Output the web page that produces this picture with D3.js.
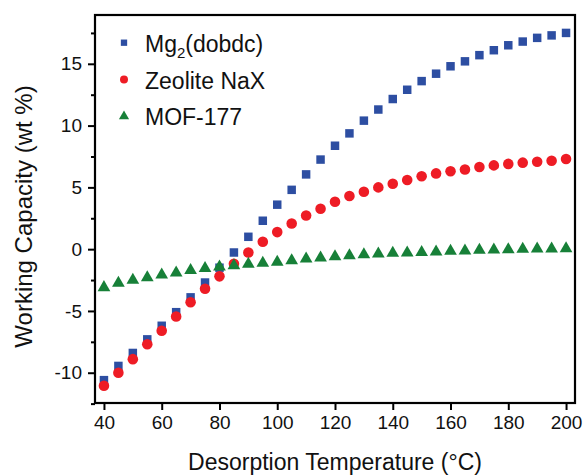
<!DOCTYPE html>
<html>
<head>
<meta charset="UTF-8">
<title>Working Capacity</title>
<script src="https://cdn.jsdelivr.net/npm/d3@7/dist/d3.min.js"></script>
<style>
  body { margin: 0; background: #fff; font-family: 'Liberation Sans', Arial, sans-serif; }
  svg { display: block; }
</style>
</head>
<body>
<div id="chart"></div>
<script>
// temperatures 40..200 in 5 degree steps
const temps = [40, 45, 50, 55, 60, 65, 70, 75, 80, 85, 90, 95, 100, 105, 110, 115, 120, 125, 130, 135, 140, 145, 150, 155, 160, 165, 170, 175, 180, 185, 190, 195, 200];

const mgDobdc = [-10.6, -9.45, -8.4, -7.3, -6.2, -5.1, -3.9, -2.7, -1.5, -0.27, 1.0, 2.3, 3.6, 4.8, 6.05, 7.25, 8.37, 9.37, 10.4, 11.3, 12.15, 12.9, 13.6, 14.2, 14.8, 15.2, 15.7, 16.1, 16.5, 16.8, 17.1, 17.3, 17.5];
const zeoliteNaX = [-11.05, -10.0, -8.9, -7.7, -6.6, -5.45, -4.3, -3.2, -2.2, -1.18, -0.27, 0.6, 1.38, 2.08, 2.73, 3.27, 3.84, 4.3, 4.65, 5.0, 5.3, 5.6, 5.9, 6.13, 6.3, 6.45, 6.65, 6.78, 6.9, 7.0, 7.08, 7.16, 7.3];
const mof177 = [-3.1, -2.75, -2.5, -2.3, -2.08, -1.92, -1.72, -1.55, -1.43, -1.33, -1.2, -1.13, -1.05, -0.92, -0.78, -0.7, -0.6, -0.52, -0.44, -0.38, -0.32, -0.29, -0.26, -0.21, -0.16, -0.13, -0.08, -0.05, -0.03, 0.0, 0.02, 0.03, 0.05];

const xTicks = [40, 60, 80, 100, 120, 140, 160, 180, 200];
const yTicks = [-10, -5, 0, 5, 10, 15];
const yMinor = [-12.5, -7.5, -2.5, 2.5, 7.5, 12.5, 17.5];

const series = [
  { name: "Mg2(dobdc)", values: mgDobdc, color: "#2d4ea2", shape: "square" },
  { name: "Zeolite NaX", values: zeoliteNaX, color: "#ee1c25", shape: "circle" },
  { name: "MOF-177", values: mof177, color: "#178038", shape: "triangle" }
];

const width = 586, height = 475;
const margin = { top: 15, right: 11, bottom: 72, left: 95 };
const w = width - margin.left - margin.right;
const h = height - margin.top - margin.bottom;

const svg = d3.select("#chart").append("svg")
  .attr("width", width)
  .attr("height", height);

const g = svg.append("g")
  .attr("transform", "translate(" + margin.left + "," + margin.top + ")");

const x = d3.scaleLinear().domain([36.9, 203.1]).range([0, w]);
const y = d3.scaleLinear().domain([-12.45, 18.95]).range([h, 0]);

// axes
const xAxis = g.append("g")
  .attr("transform", "translate(0," + h + ")")
  .call(d3.axisBottom(x).tickValues(xTicks).tickSize(7).tickPadding(6).tickFormat(d3.format("d")));

const yAxis = g.append("g")
  .call(d3.axisLeft(y).tickValues(yTicks).tickSize(7).tickPadding(6).tickFormat(d => d < 0 ? "-" + Math.abs(d) : d));

g.append("g")
  .call(d3.axisLeft(y).tickValues(yMinor).tickSize(4).tickFormat(""))
  .select(".domain").remove();

[xAxis, yAxis].forEach(a => {
  a.select(".domain").remove();
  a.selectAll(".tick text")
    .attr("font-family", "'Liberation Sans', Arial, sans-serif")
    .attr("font-size", 19)
    .attr("fill", "#111");
});
g.selectAll(".tick line").attr("stroke", "#000").attr("stroke-width", 2);

// frame
g.append("rect")
  .attr("width", w)
  .attr("height", h)
  .attr("fill", "none")
  .attr("stroke", "#000")
  .attr("stroke-width", 2.2);

// markers
const sym = {
  square: d3.symbol().type(d3.symbolSquare).size(72),
  circle: d3.symbol().type(d3.symbolCircle).size(88),
  triangle: d3.symbol().type(d3.symbolTriangle).size(70)
};

series.forEach(s => {
  g.append("g").selectAll("path")
    .data(temps.map((t, i) => [t, s.values[i]]))
    .enter().append("path")
    .attr("d", sym[s.shape])
    .attr("transform", d => "translate(" + x(d[0]) + "," + y(d[1]) + ")")
    .attr("fill", s.color);
});

// legend
const legendSym = {
  square: d3.symbol().type(d3.symbolSquare).size(40),
  circle: d3.symbol().type(d3.symbolCircle).size(50),
  triangle: d3.symbol().type(d3.symbolTriangle).size(45)
};
const legend = g.append("g").attr("transform", "translate(29,27.7)");
series.forEach((s, i) => {
  const row = legend.append("g").attr("transform", "translate(0," + (i * 36.8) + ")");
  row.append("path")
    .attr("d", legendSym[s.shape])
    .attr("fill", s.color);
  const t = row.append("text")
    .attr("x", 21)
    .attr("y", 9)
    .attr("font-size", 23)
    .attr("fill", "#111");
  if (i === 0) {
    t.append("tspan").text("Mg");
    t.append("tspan").attr("font-size", 15).attr("dy", 6).text("2");
    t.append("tspan").attr("dy", -6).text("(dobdc)");
  } else {
    t.text(s.name);
  }
});

// axis titles
svg.append("text")
  .attr("x", margin.left + w / 2)
  .attr("y", 470)
  .attr("text-anchor", "middle")
  .attr("font-size", 23)
  .attr("fill", "#111")
  .text("Desorption Temperature (°C)");

svg.append("text")
  .attr("transform", "translate(32,216.5) rotate(-90)")
  .attr("text-anchor", "middle")
  .attr("font-size", 24)
  .attr("fill", "#111")
  .text("Working Capacity (wt %)");
</script>
</body>
</html>
